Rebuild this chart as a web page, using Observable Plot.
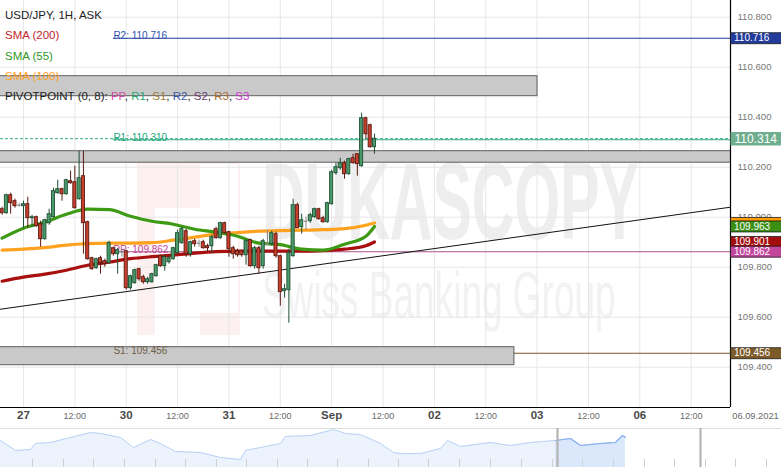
<!DOCTYPE html>
<html><head><meta charset="utf-8">
<script src="https://cdn.jsdelivr.net/npm/d3@7"></script>
<script src="https://cdn.jsdelivr.net/npm/@observablehq/plot@0.6"></script>
<style>
body{margin:0;background:#fff;font-family:"Liberation Sans",Arial,sans-serif;}
#wrap{position:relative;width:781px;height:467px;overflow:hidden;background:#fff;}
#wm{position:absolute;left:0;top:0;}
#main{position:absolute;left:0;top:0;}
#nav{position:absolute;left:0;top:428px;}
#legend{position:absolute;left:5px;top:5px;font-size:11.5px;line-height:20.3px;white-space:nowrap;}
</style></head><body>
<div id="wrap">
<svg id="wm" width="781" height="428">
  <rect x="137" y="152" width="103" height="183" fill="#fdf0f0"/>
  <rect x="155" y="208" width="45" height="127" fill="#fff"/>
  <rect x="200" y="164" width="38" height="149" fill="#fff"/>
  <text transform="translate(262,239) scale(1,1.85)" font-size="59" font-weight="bold" fill="#eeeeee" font-family="Liberation Sans, Arial, sans-serif">DUKASCOPY</text>
  <text transform="translate(262,318) scale(1,1.8)" font-size="37" fill="#f2f2f2" font-family="Liberation Sans, Arial, sans-serif">Swiss Banking Group</text>
</svg>
<div id="main"></div>
<div id="nav"></div>
<div id="legend"></div>
</div>
<script>
// ---------- DATA ----------
const instrument = "USD/JPY, 1H, ASK";
const firstHour = -5; // hours since 27 Aug 00:00 (weekend removed)
const opens = [
110.032,110.016,110.088,110.064,110.046,110.044,110.052,109.996,110.000,109.972,
109.912,109.976,110.000,110.096,110.112,110.092,110.144,110.140,110.072,110.164,
109.980,109.836,109.796,109.836,109.824,109.816,109.876,109.852,109.864,109.864,
109.716,109.736,109.792,109.760,109.740,109.740,109.764,109.844,109.804,109.820,
109.832,109.856,109.896,109.944,109.852,109.904,109.896,109.900,109.884,109.884,
109.952,109.916,109.976,109.940,109.876,109.864,109.864,109.848,109.908,109.804,
109.876,109.804,109.892,109.892,109.932,109.844,109.704,109.708,109.844,110.048,
109.960,109.984,109.984,110.000,110.032,109.996,109.980,110.052,110.176,110.196,
110.216,110.172,110.236,110.252,110.204,110.396,110.368,110.280];
const highs = [
110.040,110.092,110.096,110.072,110.056,110.064,110.080,110.008,110.004,109.984,
109.992,110.032,110.116,110.148,110.116,110.152,110.184,110.204,110.264,110.264,
109.984,109.840,109.836,109.844,109.832,109.904,109.880,109.876,109.872,109.868,
109.768,109.792,109.796,109.768,109.760,109.776,109.812,109.848,109.848,109.844,
109.880,109.948,109.960,109.952,109.904,109.912,109.908,109.908,109.892,109.928,
109.960,109.980,109.980,109.944,109.884,109.872,109.868,109.912,109.912,109.884,
109.884,109.912,109.948,109.944,109.940,109.848,109.732,109.872,110.072,110.056,
110.012,110.000,110.016,110.036,110.036,110.004,110.060,110.188,110.216,110.236,
110.224,110.236,110.252,110.252,110.416,110.400,110.372,110.332];
const lows = [
110.008,110.012,110.012,110.036,110.040,109.956,109.956,109.960,109.960,109.880,
109.908,109.968,109.996,110.092,110.064,110.088,110.132,110.032,110.068,109.852,
109.828,109.788,109.792,109.772,109.800,109.812,109.844,109.772,109.840,109.708,
109.708,109.732,109.744,109.732,109.732,109.736,109.760,109.800,109.784,109.812,
109.828,109.852,109.892,109.840,109.840,109.880,109.880,109.872,109.860,109.856,
109.912,109.912,109.932,109.840,109.832,109.840,109.840,109.808,109.800,109.792,
109.772,109.792,109.888,109.884,109.836,109.644,109.676,109.576,109.840,109.956,
109.932,109.948,109.976,109.996,109.988,109.976,109.976,110.048,110.168,110.188,
110.152,110.168,110.212,110.164,110.200,110.312,110.276,110.252];
const closes = [
110.016,110.088,110.056,110.044,110.048,110.052,109.996,110.000,109.964,109.912,
109.988,110.012,110.104,110.112,110.092,110.148,110.136,110.036,110.156,109.976,
109.832,109.792,109.832,109.816,109.812,109.896,109.852,109.868,109.862,109.716,
109.764,109.788,109.752,109.740,109.752,109.772,109.808,109.804,109.840,109.836,
109.876,109.936,109.952,109.852,109.900,109.892,109.896,109.876,109.876,109.920,
109.916,109.976,109.936,109.872,109.852,109.848,109.848,109.904,109.804,109.876,
109.796,109.904,109.892,109.936,109.844,109.700,109.712,109.856,110.048,109.956,
109.988,109.984,110.008,110.032,109.992,109.980,110.056,110.180,110.200,110.216,
110.172,110.232,110.216,110.212,110.396,110.332,110.280,110.314];

const smaHours = [-5,0,5,10,15,20,25,30,35,40,45,50,55,60,65,70,75,80,82];
const sma55  = [109.916,109.956,109.980,110.012,110.032,110.030,110.004,109.984,109.972,109.952,109.940,109.924,109.896,109.890,109.872,109.868,109.892,109.924,109.963];
const sma100 = [109.868,109.872,109.878,109.888,109.894,109.896,109.896,109.898,109.908,109.920,109.932,109.938,109.944,109.946,109.948,109.950,109.954,109.968,109.977];
const sma200 = [109.744,109.760,109.772,109.788,109.808,109.820,109.834,109.842,109.848,109.856,109.862,109.864,109.864,109.864,109.864,109.866,109.872,109.886,109.901];

const pivotStart = 21;
const levelNames  = ["R2", "R1", "PP", "S1"];
const levelValues = [110.716, 110.310, 109.862, 109.456];

const zoneTops    = [110.564, 110.264, 109.480];
const zoneBottoms = [110.484, 110.218, 109.408];
const zoneEnds    = [120.1, 170, 114.7];

const trendHours  = [-6, 166];
const trendValues = [109.6305, 110.042];

const tickHours  = [0,12,24,36,48,60,72,84,96,108,120,132,144,156];
const tickLabels = ["27","12:00","30","12:00","31","12:00","Sep","12:00","02","12:00","03","12:00","06","12:00"];
const dateLabel = "06.09.2021";
const yTicks = [109.4,109.6,109.8,110.0,110.2,110.4,110.6,110.8];

// navigator (overview) : time in days, level in relative units
const navDays = [0,0.75,1.5,1.75,2.5,3.5,4.5,5,6,6.65,7.5,8,8.75,10,11,12,12.25,13,14,14.25,15.5,16.65,17.25,18,19,19.65,20,21,22,22.35,23,24.5,25.5,26.5,27.75,28.5,29,30,30.75,31.1,31.25];
const navLevels = [27,17,18,24,25,30,35,34,30,20,28,24,16,15,10,8,17,20,24,31,32,38,34,33,24,15,14,14,19,27,21,25,22,25,27,29,22,24,25,32,30];
const navWindow = [27.85, 35.0];
const navTicks = [1.6,3.15,4.65,6.2,7.75,9.25,10.8,12.3,13.85,15.35,16.85,18.4,19.9,21.4,22.95,24.5,26.05,27.6,29.1,30.65,32.2,33.7,35.25,36.75,38.3];

// ---------- BUILD ----------
const colors = {up:"#4b9a6b", upEdge:"#1f4f33", down:"#c8402d", downEdge:"#5a1a10", doji:"#8a8a8a"};
const candles = opens.map((o,i) => ({h: firstHour + i, o, hi: highs[i], lo: lows[i], c: closes[i]}))
  .map(d => ({...d, kind: Math.abs(d.c - d.o) < 0.003 ? "doji" : (d.c > d.o ? "up" : "down")}));
const bodies = candles.filter(d => d.kind !== "doji");
const dojis = candles.filter(d => d.kind === "doji");
const mkSma = arr => smaHours.map((h,i) => ({h, v: arr[i]}));
const levelColors = {R2:"#1f3c9e", R1:"#33ad82", PP:"#a8508a", S1:"#7a5a2e"};
const levelText  = {R2:"#2f4fb0", R1:"#24a877", PP:"#c2479c", S1:"#6e5e48"};
const levels = levelNames.map((n,i) => ({n, v: levelValues[i]}));
const zones = zoneTops.map((t,i) => ({t, b: zoneBottoms[i], e: zoneEnds[i]}));
const trend = trendHours.map((h,i) => ({h, v: trendValues[i]}));
const ticks = tickHours.map((h,i) => ({h, label: tickLabels[i], major: tickLabels[i] !== "12:00"}));
const lastClose = closes[closes.length-1];
const val = n => levelValues[levelNames.indexOf(n)];
// SMA(100) tag sits behind the SMA(55) tag (only its edge shows)
const hiddenTag = {v: sma100[sma100.length-1], color:"#ff9a00"};
const tags = [
  {v: sma55[sma55.length-1],  color:"#3b8e14"},
  {v: sma200[sma200.length-1], color:"#a30d0d"},
  {v: val("PP"), color:"#c2469c"},
  {v: val("R2"), color:"#233b9b"},
  {v: val("S1"), color:"#7c5b28"}
];

const pxPerHour = 4.28, x0px = 23, plotW = 730;
const xDomain = [-x0px/pxPerHour, (plotW - x0px)/pxPerHour];
const xEnd = () => xDomain[1];
const box = h => ({draw(ctx){ ctx.moveTo(0,-h/2); ctx.lineTo(52,-h/2); ctx.lineTo(52,h/2); ctx.lineTo(0,h/2); ctx.closePath(); }});
const font = "Liberation Sans, Arial, sans-serif";

const main = Plot.plot({
  width: 781, height: 428,
  marginLeft: 0, marginRight: 51, marginTop: 0, marginBottom: 21,
  style: {background: "transparent", fontFamily: font, overflow: "visible"},
  x: {domain: xDomain, axis: null},
  y: {domain: [109.2388, 110.8668], axis: null},
  color: {type: "identity"},
  marks: [
    Plot.ruleX(tickHours, {stroke: "#e6e6e6", strokeOpacity: 1}),
    Plot.ruleY(yTicks, {stroke: "#e6e6e6", strokeOpacity: 1}),
    Plot.ruleY(levels, {y: "v", x1: () => pivotStart, x2: xEnd, stroke: d => levelColors[d.n], strokeWidth: 1.1}),
    Plot.rect(zones, {x1: () => xDomain[0] - 2, x2: "e", y1: "b", y2: "t", fill: "#c9c9c9", stroke: "#5e5e5e", strokeWidth: 1, clip: true}),
    Plot.ruleY([lastClose], {stroke: "#2eaa80", strokeDasharray: "3,2", strokeWidth: 1}),
    Plot.text(levels, {x: () => pivotStart, y: "v", text: d => `${d.n}: ${d.v.toFixed(3)}`, fill: d => levelText[d.n], textAnchor: "start", lineAnchor: "bottom", dy: 1, fontSize: 10}),
    Plot.line(trend, {x: "h", y: "v", stroke: "#111", strokeWidth: 1, clip: true}),
    Plot.line(mkSma(sma200), {x: "h", y: "v", stroke: "#a80f0f", strokeWidth: 3.2, curve: "monotone-x"}),
    Plot.line(mkSma(sma100), {x: "h", y: "v", stroke: "#ffa21f", strokeWidth: 3.2, curve: "monotone-x"}),
    Plot.line(mkSma(sma55), {x: "h", y: "v", stroke: "#3c9a14", strokeWidth: 3.2, curve: "monotone-x"}),
    Plot.ruleX(candles, {x: "h", y1: "lo", y2: "hi", stroke: d => d.kind === "up" ? colors.upEdge : d.kind === "down" ? colors.downEdge : colors.doji, strokeWidth: 1}),
    Plot.rect(bodies, {x1: d => d.h - 0.36, x2: d => d.h + 0.36, y1: "o", y2: "c", fill: d => colors[d.kind], stroke: d => colors[d.kind + "Edge"], strokeWidth: 0.9}),
    Plot.ruleY(dojis, {y: "c", x1: d => d.h - 0.42, x2: d => d.h + 0.42, stroke: colors.doji, strokeWidth: 1.2}),
    Plot.ruleX([xDomain[1]], {stroke: "#000", strokeWidth: 1.2}),
    Plot.ruleY([109.2388], {x1: () => xDomain[0], x2: xEnd, stroke: "#000", strokeWidth: 1.2}),
    Plot.text(yTicks, {x: xEnd, y: d => d, text: d => d.toFixed(3), dx: 7, textAnchor: "start", fill: "#777", fontSize: 9.6}),
    Plot.dot([hiddenTag], {x: xEnd, y: "v", symbol: box(11), r: 5, fill: "color", stroke: "#1a1a1a", strokeWidth: 0.8}),
    Plot.dot(tags, {x: xEnd, y: "v", symbol: box(11), r: 5, fill: "color", stroke: "#1a1a1a", strokeWidth: 0.8}),
    Plot.text(tags, {x: xEnd, y: "v", text: d => d.v.toFixed(3), dx: 3.5, textAnchor: "start", fill: "#fff", fontSize: 10}),
    Plot.dot([lastClose], {x: xEnd, y: d => d, symbol: box(13.5), r: 5, fill: "#6fae8e", stroke: "none"}),
    Plot.text([lastClose], {x: xEnd, y: d => d, text: d => d.toFixed(3), dx: 4, textAnchor: "start", fill: "#fff", fontSize: 12}),
    Plot.text(ticks.filter(d => d.major), {x: "h", frameAnchor: "bottom", text: "label", dy: 11, fontSize: 11.5, fontWeight: "bold", fill: "#4a4a4a"}),
    Plot.text(ticks.filter(d => !d.major), {x: "h", frameAnchor: "bottom", text: "label", dy: 11, fontSize: 9, fill: "#6a6a6a"}),
    Plot.text([dateLabel], {frameAnchor: "bottom-right", text: d => d, dx: 25, dy: 11, textAnchor: "middle", fontSize: 9.3, fill: "#6a6a6a"})
  ]
});
document.getElementById("main").appendChild(main);

// navigator
const navPts = navDays.map((d,i) => ({d, l: navLevels[i]}));
const navSel = navPts.filter(p => p.d >= 27.75);
const nav = Plot.plot({
  width: 781, height: 39, margin: 0,
  style: {background: "transparent"},
  x: {domain: [0, 39.05], axis: null},
  y: {domain: [0, 39], axis: null},
  marks: [
    Plot.areaY(navPts, {x: "d", y: "l", fill: "#edf3fd"}),
    Plot.areaY(navSel, {x: "d", y: "l", fill: "#dbe7fb"}),
    Plot.ruleX(navTicks, {y1: () => 0, y2: () => 8, stroke: "#cfcfcf"}),
    Plot.line(navPts, {x: "d", y: "l", stroke: "#b9d1f5", strokeWidth: 1}),
    Plot.line(navSel, {x: "d", y: "l", stroke: "#86aef0", strokeWidth: 1.2}),
    Plot.ruleY([39], {stroke: "#dddddd"}),
    Plot.ruleX(navWindow, {stroke: "#b5b5b5", strokeWidth: 2.2})
  ]
});
document.getElementById("nav").appendChild(nav);

// legend
const legendRows = [
  {text: instrument, color: "#222"},
  {text: "SMA (200)", color: "#c0272d"},
  {text: "SMA (55)", color: "#2e9a1f"},
  {text: "SMA (100)", color: "#ffa21f"}
];
const pivotParts = ["PP","R1","S1","R2","S2","R3","S3"];
const pivotColors = ["#d04aa6","#1fa872","#a07a3a","#3a56a8","#6a3a6a","#a86a2a","#cc33cc"];
const lg = document.getElementById("legend");
legendRows.forEach(r => { const div = document.createElement("div"); div.textContent = r.text; div.style.color = r.color; lg.appendChild(div); });
const pv = document.createElement("div");
pv.style.color = "#222";
pv.append("PIVOTPOINT (0, 8): ");
pivotParts.forEach((p,i) => {
  const s = document.createElement("span"); s.textContent = p; s.style.color = pivotColors[i]; pv.appendChild(s);
  if (i < pivotParts.length - 1) pv.append(", ");
});
lg.appendChild(pv);
</script>
</body></html>
